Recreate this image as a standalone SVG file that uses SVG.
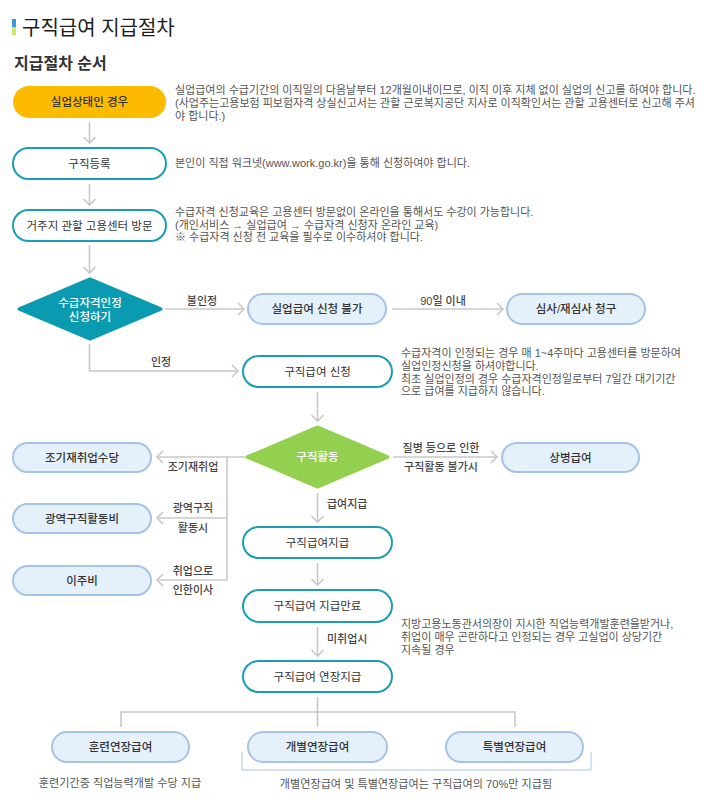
<svg xmlns="http://www.w3.org/2000/svg" width="715" height="809" viewBox="0 0 715 809">
<defs>
<style>
text{font-family:"Liberation Sans","Noto Sans CJK KR",sans-serif;}
.title{font-size:20px;fill:#1e1e1e;}
.sub{font-size:16px;font-weight:bold;fill:#333;}
.nt{font-size:11.5px;fill:#333;text-anchor:middle;}
.nb{font-size:11.5px;fill:#333;text-anchor:middle;font-weight:500;}
.nw{font-size:11.5px;fill:#fff;text-anchor:middle;font-weight:500;}
.lb{font-size:11px;fill:#444;text-anchor:middle;font-weight:500;}
.ls{font-size:11px;fill:#444;font-weight:500;}
.desc{font-size:11px;fill:#555;}
.descm{font-size:11.1px;fill:#555;text-anchor:middle;}
.teal{fill:#fff;stroke:#1b9db3;stroke-width:2;}
.blue{fill:#e4f1fb;stroke:#a5c3e6;stroke-width:2;}
.con{fill:none;stroke:#c8c8c8;stroke-width:1.6;}
.arr{marker-end:url(#ah);}
</style>
<marker id="ah" markerUnits="userSpaceOnUse" markerWidth="16" markerHeight="16" refX="8" refY="8" orient="auto" overflow="visible">
<path d="M2,2 L8,8 L2,14" fill="none" stroke="#c8c8c8" stroke-width="1.6"/>
</marker>
</defs>
<rect width="715" height="809" fill="#fff"/>

<g id="header">
<rect x="12" y="19" width="4" height="8" fill="#3a9ad9"/>
<rect x="12" y="27" width="4" height="8" fill="#d6e46e"/>
<text class="title" x="22" y="35">구직급여 지급절차</text>
<text class="sub" x="14" y="69">지급절차 순서</text>
</g>

<g id="connectors">
<line class="con arr" x1="89.5" y1="122" x2="89.5" y2="143"/>
<line class="con arr" x1="89.5" y1="184" x2="89.5" y2="205"/>
<line class="con arr" x1="89.5" y1="245" x2="89.5" y2="273"/>
<line class="con arr" x1="165" y1="309" x2="244" y2="309"/>
<line class="con arr" x1="392" y1="309" x2="503" y2="309"/>
<polyline class="con arr" points="89.5,344 89.5,371 238,371"/>
<line class="con arr" x1="317.5" y1="392" x2="317.5" y2="421"/>
<line class="con arr" x1="393" y1="457" x2="497" y2="457"/>
<line class="con arr" x1="245" y1="457" x2="157" y2="457"/>
<line class="con" x1="227" y1="457" x2="227" y2="580"/>
<line class="con arr" x1="227" y1="518" x2="157" y2="518"/>
<line class="con arr" x1="227" y1="580" x2="157" y2="580"/>
<line class="con arr" x1="317.5" y1="493" x2="317.5" y2="522"/>
<line class="con arr" x1="317.5" y1="563" x2="317.5" y2="585"/>
<line class="con arr" x1="317.5" y1="627" x2="317.5" y2="656"/>
<polyline class="con" points="317.5,697 317.5,727"/>
<polyline class="con" points="121,727 121,712 515,712 515,727"/>
<polyline points="242,752 242,770 591,770 591,752" fill="none" stroke="#a9c4e4" stroke-width="1"/>
<text class="lb" x="202" y="305">불인정</text>
<text class="lb" x="443" y="305">90일 이내</text>
<text class="lb" x="161" y="366">인정</text>
<text class="lb" x="441" y="452">질병 등으로 인한</text>
<text class="lb" x="441" y="471">구직활동 불가시</text>
<text class="lb" x="193" y="471">조기재취업</text>
<text class="lb" x="193" y="512">광역구직</text>
<text class="lb" x="193" y="532">활동시</text>
<text class="lb" x="193" y="575">취업으로</text>
<text class="lb" x="193" y="594">인한이사</text>
<text class="ls" x="327" y="508">급여지급</text>
<text class="ls" x="327" y="643">미취업시</text>
</g>

<g id="n-unemployed">
<rect x="13" y="86" width="153" height="32" rx="16" fill="#fdbb00"/>
<text class="nb" x="89.5" y="106">실업상태인 경우</text>
<text class="desc" x="175" y="94">실업급여의 수급기간의 이직일의 다음날부터 12개월이내이므로, 이직 이후 지체 없이 실업의 신고를 하여야 합니다.</text>
<text class="desc" x="175" y="107">(사업주는고용보험 피보험자격 상실신고서는 관할 근로복지공단 지사로 이직확인서는 관할 고용센터로 신고해 주셔</text>
<text class="desc" x="175" y="120">야 합니다.)</text>
</g>

<g id="n-register">
<rect x="13" y="148" width="153" height="31" rx="15.5" class="teal"/>
<text class="nt" x="89.5" y="167.5">구직등록</text>
<text class="desc" x="175" y="167">본인이 직접 워크넷(www.work.go.kr)을 통해 신청하여야 합니다.</text>
</g>

<g id="n-visit">
<rect x="13" y="210" width="153" height="31" rx="15.5" class="teal"/>
<text class="nt" x="89.5" y="229.5">거주지 관할 고용센터 방문</text>
<text class="desc" x="175" y="216">수급자격 신청교육은 고용센터 방문없이 온라인을 통해서도 수강이 가능합니다.</text>
<text class="desc" x="175" y="228.5">(개인서비스 → 실업급여 → 수급자격 신청자 온라인 교육)</text>
<text class="desc" x="175" y="241">※ 수급자격 신청 전 교육을 필수로 이수하셔야 합니다.</text>
</g>

<g id="n-qualify">
<polygon points="90,279 161,309 90,339 19,309" fill="#0a9bb1" stroke="#0a9bb1" stroke-width="3" stroke-linejoin="round"/>
<text class="nw" x="90" y="307">수급자격인정</text>
<text class="nw" x="90" y="321">신청하기</text>
</g>

<g id="n-reject">
<rect x="248" y="294" width="138" height="30" rx="15" class="blue"/>
<text class="nb" x="317" y="313">실업급여 신청 불가</text>
</g>

<g id="n-appeal">
<rect x="507" y="294" width="138" height="30" rx="15" class="blue"/>
<text class="nb" x="576" y="313">심사/재심사 청구</text>
</g>

<g id="n-apply">
<rect x="243" y="356" width="149" height="31" rx="15.5" class="teal"/>
<text class="nt" x="317.5" y="375.5">구직급여 신청</text>
<text class="desc" x="401" y="357">수급자격이 인정되는 경우 매 1~4주마다 고용센터를 방문하여</text>
<text class="desc" x="401" y="370">실업인정신청을 하셔야합니다.</text>
<text class="desc" x="401" y="382.5">최초 실업인정의 경우 수급자격인정일로부터 7일간 대기기간</text>
<text class="desc" x="401" y="395">으로 급여를 지급하지 않습니다.</text>
</g>

<g id="n-search">
<polygon points="317.5,427 388,457 317.5,487 247,457" fill="#93d050" stroke="#93d050" stroke-width="3" stroke-linejoin="round"/>
<text class="nw" x="317.5" y="461">구직활동</text>
</g>

<g id="n-sick">
<rect x="502" y="443" width="137" height="29" rx="14.5" class="blue"/>
<text class="nb" x="570.5" y="461.5">상병급여</text>
</g>

<g id="n-early">
<rect x="13" y="443" width="138" height="29" rx="14.5" class="blue"/>
<text class="nb" x="82" y="461.5">조기재취업수당</text>
</g>

<g id="n-wide">
<rect x="13" y="504" width="138" height="29" rx="14.5" class="blue"/>
<text class="nb" x="82" y="522.5">광역구직활동비</text>
</g>

<g id="n-move">
<rect x="13" y="566" width="138" height="29" rx="14.5" class="blue"/>
<text class="nb" x="82" y="584.5">이주비</text>
</g>

<g id="n-pay">
<rect x="243" y="527" width="149" height="31" rx="15.5" class="teal"/>
<text class="nt" x="317.5" y="546.5">구직급여지급</text>
</g>

<g id="n-end">
<rect x="243" y="590" width="149" height="32" rx="16" class="teal"/>
<text class="nt" x="317.5" y="610">구직급여 지급만료</text>
<text class="desc" x="401" y="628">지방고용노동관서의장이 지시한 직업능력개발훈련을받거나,</text>
<text class="desc" x="401" y="641">취업이 매우 곤란하다고 인정되는 경우 고실업이 상당기간</text>
<text class="desc" x="401" y="654">지속될 경우</text>
</g>

<g id="n-extend">
<rect x="243" y="661" width="149" height="31" rx="15.5" class="teal"/>
<text class="nt" x="317.5" y="680.5">구직급여 연장지급</text>
</g>

<g id="n-training">
<rect x="52" y="732" width="137" height="30" rx="15" class="blue"/>
<text class="nb" x="120.5" y="751">훈련연장급여</text>
<text class="descm" x="120" y="787">훈련기간중 직업능력개발 수당 지급</text>
</g>

<g id="n-individual">
<rect x="248" y="732" width="139" height="30" rx="15" class="blue"/>
<text class="nb" x="317.5" y="751">개별연장급여</text>
</g>

<g id="n-special">
<rect x="446" y="732" width="137" height="30" rx="15" class="blue"/>
<text class="nb" x="514.5" y="751">특별연장급여</text>
</g>

<text class="descm" x="416" y="788">개별연장급여 및 특별연장급여는 구직급여의 70%만 지급됨</text>
</svg>
